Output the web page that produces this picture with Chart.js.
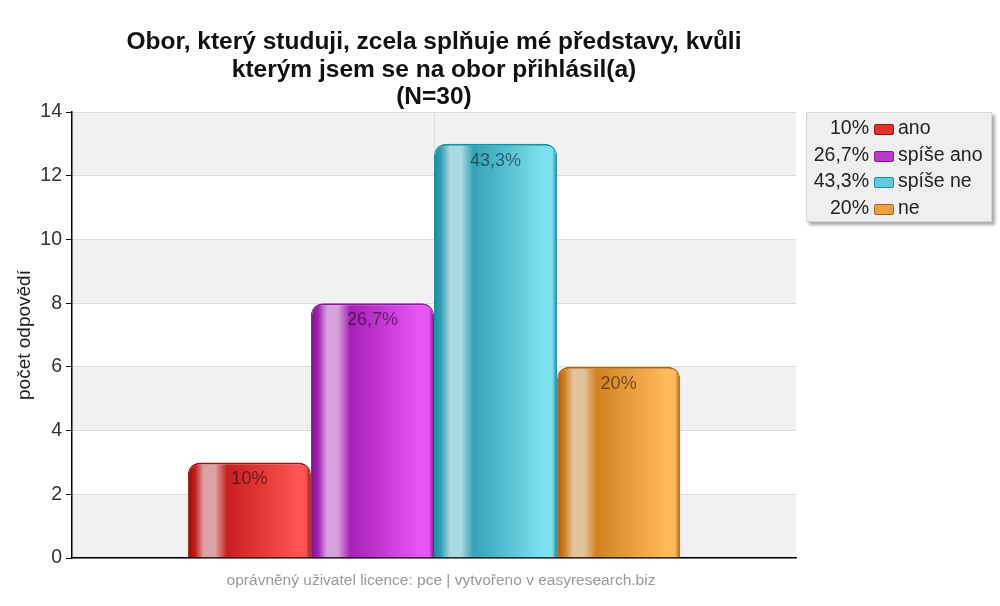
<!DOCTYPE html>
<html>
<head>
<meta charset="utf-8">
<script src="https://cdn.jsdelivr.net/npm/chart.js@4/dist/chart.umd.min.js"></script>
<style>
  html, body { margin: 0; padding: 0; background: #fff; }
  #wrap { position: relative; width: 1000px; height: 606px; font-family: "Liberation Sans", Arial, sans-serif; }
  #title { position: absolute; left: 72px; width: 724px; top: 27px; text-align: center;
           font-weight: bold; font-size: 24.5px; line-height: 27.5px; color: #111; }
  #legend { position: absolute; left: 806px; top: 112px; width: 184px; height: 108px;
            background: #efeff1; border: 1px solid #d6d6d8; box-shadow: 3px 3px 3px #aaa; }
  .row { position: absolute; left: 0; height: 26px; font-size: 19.5px; color: #222; }
  .row .pct { position: absolute; right: 122px; width: 70px; text-align: right; white-space: nowrap; }
  .row .box { position: absolute; left: 67px; top: 8px; width: 18px; height: 9px; border-radius: 2px; }
  .row .lab { position: absolute; left: 91px; white-space: nowrap; }
  #footer { position: absolute; left: 79px; width: 724px; top: 571px; text-align: center;
            font-size: 15.5px; color: #999; }
</style>
</head>
<body>
<div id="wrap">
  <canvas id="myChart" width="1000" height="606"></canvas>
  <div id="title"></div>
  <div id="legend"></div>
  <div id="footer">oprávněný uživatel licence: pce | vytvořeno v easyresearch.biz</div>
</div>
<script>
const titleLines = ['Obor, který studuji, zcela splňuje mé představy, kvůli', 'kterým jsem se na obor přihlásil(a)', '(N=30)'];
const categories = ['ano', 'spíše ano', 'spíše ne', 'ne'];
const counts = [3, 8, 13, 6];
const percentLabels = ['10%', '26,7%', '43,3%', '20%'];
const yMax = 14;
const yStep = 2;

// barvy: okraj, odlesk, tmavá, světlá
const palettes = [
    { edge: '#8e0d0d', shine: '#dba4a4', dark: '#c61f1f', light: '#ff5252', border: '#9a1414', legend: '#e03030' },
    { edge: '#7a168a', shine: '#d7a2dc', dark: '#a521b5', light: '#e755f5', border: '#861a96', legend: '#b63cc6' },
    { edge: '#168c9c', shine: '#acd9e0', dark: '#34a2b8', light: '#7ce0ef', border: '#1b8fa0', legend: '#5fcbdc' },
    { edge: '#a65a0e', shine: '#e2c49a', dark: '#d08222', light: '#ffb95a', border: '#b0640f', legend: '#eea040' }
];

document.getElementById('title').innerHTML = titleLines.join('<br>');

const legendEl = document.getElementById('legend');
categories.forEach((cat, i) => {
    const row = document.createElement('div');
    row.className = 'row';
    row.style.top = (3 + i * 26.5) + 'px';
    row.style.width = '184px';
    row.innerHTML = `<span class="pct">${percentLabels[i]}</span>
        <span class="box" style="background:${palettes[i].legend};border:1px solid ${palettes[i].border}"></span>
        <span class="lab">${cat}</span>`;
    legendEl.appendChild(row);
});

const CAT_PCT = 0.68;

function barGradient(ctx) {
    const chart = ctx.chart;
    const p = palettes[ctx.datasetIndex];
    const xs = chart.scales.x;
    if (!chart.chartArea || !xs || xs.width === undefined) return p.dark;
    const catW = xs.width * CAT_PCT;
    const barW = catW / categories.length;
    const left = xs.getPixelForValue(0) - catW / 2 + ctx.datasetIndex * barW;
    const g = chart.ctx.createLinearGradient(left, 0, left + barW, 0);
    g.addColorStop(0, p.edge);
    g.addColorStop(0.06, p.dark);
    g.addColorStop(0.13, p.shine);
    g.addColorStop(0.22, p.shine);
    g.addColorStop(0.32, p.dark);
    g.addColorStop(0.88, p.light);
    g.addColorStop(0.96, p.light);
    g.addColorStop(1, p.edge);
    return g;
}

// pruhované pozadí grafu
const bandsPlugin = {
    id: 'bands',
    beforeDraw(chart) {
        const { ctx, chartArea, scales } = chart;
        ctx.save();
        ctx.fillStyle = '#f1f1f1';
        for (let v = 0; v < yMax; v += yStep * 2) {
            const y1 = scales.y.getPixelForValue(v);
            const y2 = scales.y.getPixelForValue(v + yStep);
            ctx.fillRect(chartArea.left, y2, chartArea.right - chartArea.left, y1 - y2);
        }
        ctx.restore();
    }
};

// procenta uvnitř sloupců
const valueLabels = {
    id: 'valueLabels',
    afterDatasetsDraw(chart) {
        const ctx = chart.ctx;
        ctx.save();
        ctx.font = '18px "Liberation Sans", Arial, sans-serif';
        ctx.fillStyle = 'rgba(0,0,0,0.5)';
        ctx.textAlign = 'center';
        ctx.textBaseline = 'middle';
        chart.data.datasets.forEach((ds, i) => {
            const el = chart.getDatasetMeta(i).data[0];
            ctx.fillText(percentLabels[i], el.x, el.y + 17);
        });
        ctx.restore();
    }
};

document.addEventListener('DOMContentLoaded', () => {
    const ctx = document.getElementById('myChart').getContext('2d');
    new Chart(ctx, {
        type: 'bar',
        data: {
            labels: [''],
            datasets: categories.map((cat, i) => ({
                label: cat,
                data: [counts[i]],
                backgroundColor: barGradient,
                borderColor: palettes[i].border,
                borderWidth: { top: 2, left: 1, right: 1, bottom: 0 },
                borderSkipped: 'bottom',
                borderRadius: { topLeft: 12, topRight: 12, bottomLeft: 0, bottomRight: 0 },
                barPercentage: 1,
                categoryPercentage: CAT_PCT
            }))
        },
        options: {
            responsive: false,
            animation: false,
            layout: { padding: { top: 112, right: 204, bottom: 48, left: 0 } },
            plugins: {
                legend: { display: false },
                tooltip: { enabled: false },
                title: { display: false }
            },
            scales: {
                x: {
                    ticks: { display: false },
                    grid: { offset: false, color: '#dcdcdc', drawTicks: false },
                    border: { color: '#000', width: 1.5 }
                },
                y: {
                    min: 0,
                    max: yMax,
                    ticks: {
                        stepSize: yStep,
                        color: '#333',
                        padding: 4,
                        font: { size: 19.5, family: '"Liberation Sans", Arial, sans-serif' }
                    },
                    grid: { color: '#dcdcdc', tickColor: '#000', tickLength: 6 },
                    border: { color: '#000', width: 1.5 },
                    title: {
                        display: true,
                        text: 'počet odpovědí',
                        color: '#222',
                        padding: { top: 13, bottom: 0 },
                        font: { size: 19, family: '"Liberation Sans", Arial, sans-serif' }
                    },
                    afterFit(scale) { scale.width = 72; }
                }
            }
        },
        plugins: [bandsPlugin, valueLabels]
    });
});
</script>
</body>
</html>
